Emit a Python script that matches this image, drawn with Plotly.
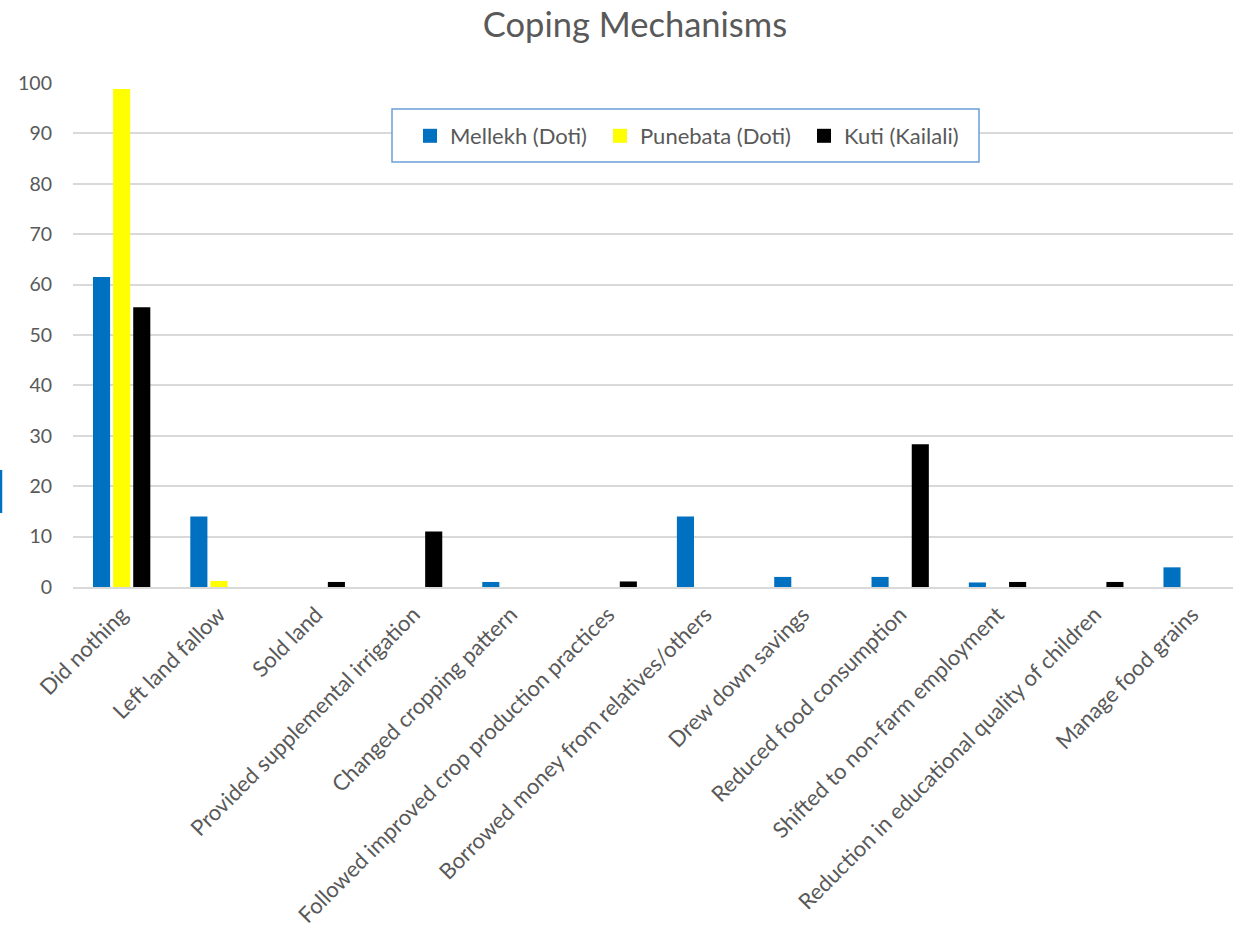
import plotly.graph_objects as go

# Coping mechanisms reported by households in three sites (% of respondents)
categories = [
    "Did nothing",
    "Left land fallow",
    "Sold land",
    "Provided supplemental irrigation",
    "Changed cropping pattern",
    "Followed improved crop production practices",
    "Borrowed money from relatives/others",
    "Drew down savings",
    "Reduced food consumption",
    "Shifted to non-farm employment",
    "Reduction in educational quality of children",
    "Manage food grains",
]

mellekh = [61.5, 14, 0, 0, 1, 0, 14, 2, 2, 0.9, 0, 3.9]
punebata = [98.8, 1.2, 0, 0, 0, 0, 0, 0, 0, 0, 0, 0]
kuti = [55.5, 0, 1, 11, 0, 1.1, 0, 0, 28.3, 1, 1, 0]

series = [
    ("Mellekh (Doti)", mellekh, "#0070C0"),
    ("Punebata (Doti)", punebata, "#FFFF00"),
    ("Kuti (Kailali)", kuti, "#000000"),
]

TEXT = "#595959"
FONT = "Lato, 'Open Sans', sans-serif"

W, H = 1233, 934
L, R, T, B = 73, 0, 83, 347
PW, PH = W - L - R, H - T - B


def px_x(px):
    return (px - L) / PW


def px_y(py):
    return (H - B - py) / PH


# one legend per series so each entry sits at its own spot in the box
legend_left = [410, 600, 804]
legend_ids = ["legend", "legend2", "legend3"]

fig = go.Figure()
for (name, vals, color), lid in zip(series, legend_ids):
    fig.add_trace(go.Bar(
        x=categories, y=vals, name=name, showlegend=False,
        marker=dict(color=color, line=dict(width=0)),
    ))
    # legend swatch
    fig.add_trace(go.Scatter(
        x=[None], y=[None], mode="markers", name=name, legend=lid,
        marker=dict(symbol="square", size=14, color=color),
        showlegend=True,
    ))

legend_common = dict(
    orientation="h", xref="container", yref="container",
    xanchor="left", yanchor="middle", y=1 - 136 / H,
    bgcolor="rgba(0,0,0,0)", borderwidth=0, itemsizing="trace",
    itemwidth=30, font=dict(size=22, color=TEXT, family=FONT),
)

layout_legends = {}
for lid, lx in zip(legend_ids, legend_left):
    layout_legends[lid] = dict(legend_common, x=lx / W)

fig.update_layout(
    width=W, height=H,
    margin=dict(l=L, r=R, t=T, b=B, autoexpand=False),
    paper_bgcolor="white", plot_bgcolor="white",
    font=dict(family=FONT, color=TEXT, size=20),
    title=dict(text="Coping Mechanisms", x=0.515, xanchor="center",
               xref="container", y=1 - 25 / H, yanchor="middle",
               font=dict(size=34.5, color=TEXT, family=FONT)),
    barmode="group", bargap=0.38, bargroupgap=0.15,
    showlegend=True,
    xaxis=dict(
        type="category", range=[-0.5, 11.42],
        tickangle=-45, showgrid=False, ticks="",
        showline=True, linecolor="#D9D9D9", linewidth=2,
        tickfont=dict(size=22, color=TEXT, family=FONT),
        ticklabelstandoff=4,
    ),
    yaxis=dict(
        range=[0, 100], dtick=10, showgrid=True,
        gridcolor="#D9D9D9", gridwidth=1.6, zeroline=False,
        ticks="", tickfont=dict(size=19.5, color=TEXT, family=FONT),
        ticklabelstandoff=20,
    ),
    **layout_legends,
)

# legend frame (white fill hides the gridlines behind the entries)
fig.add_shape(type="rect", xref="paper", yref="paper",
              x0=px_x(392), x1=px_x(979), y0=px_y(162), y1=px_y(109),
              line=dict(color="#6A9FD8", width=1.5), fillcolor="white",
              layer="above")

# thin blue stroke at the left edge
fig.add_shape(type="line", xref="paper", yref="paper",
              x0=px_x(1), x1=px_x(1), y0=px_y(513), y1=px_y(470),
              line=dict(color="#0070C0", width=2.5))

fig.write_html("out.html")
